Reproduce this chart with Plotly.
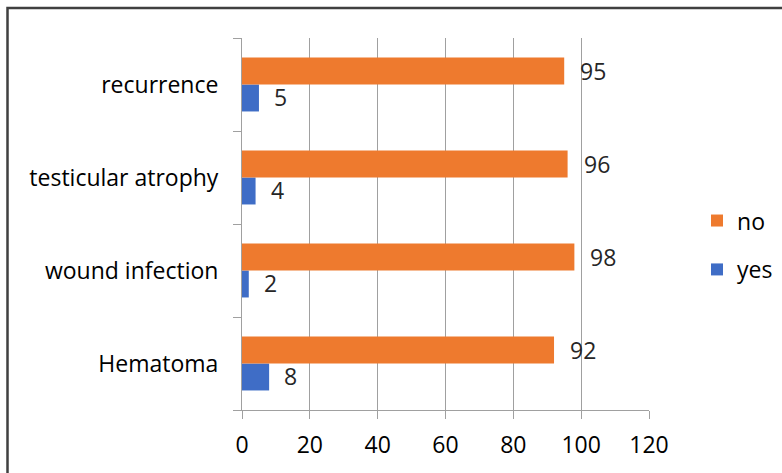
import plotly.graph_objects as go

categories = ["Hematoma", "wound infection", "testicular atrophy", "recurrence"]
yes_vals = [8, 2, 4, 5]
no_vals = [92, 98, 96, 95]
x_ticks = [0, 20, 40, 60, 80, 100, 120]

FONT = "Open Sans"
ORANGE = "#EE7A2E"
BLUE = "#3F6DC6"
FS = 23

fig = go.Figure()
fig.add_trace(go.Bar(y=categories, x=yes_vals, orientation="h", name="yes",
                     marker=dict(color=BLUE, line=dict(width=0)),
                     legendgroup="yes", legendrank=2))
fig.add_trace(go.Bar(y=categories, x=no_vals, orientation="h", name="no",
                     marker=dict(color=ORANGE, line=dict(width=0)),
                     legendgroup="no", legendrank=1))

# value labels
for c, v in zip(categories, no_vals):
    fig.add_annotation(x=v, y=c, text=str(v), showarrow=False, xanchor="left",
                       xshift=14, yshift=14, font=dict(family=FONT, size=FS, color="#262626"))
for c, v in zip(categories, yes_vals):
    fig.add_annotation(x=v, y=c, text=str(v), showarrow=False, xanchor="left",
                       xshift=13, yshift=-12, font=dict(family=FONT, size=FS, color="#262626"))

# outer frame
fig.add_shape(type="rect", xref="paper", yref="paper",
              x0=(7.5 - 242) / 407, x1=1.5, y0=-0.5, y1=1 + 30 / 372,
              line=dict(color="#404040", width=2.5), layer="above")

fig.update_layout(
    width=782, height=473,
    margin=dict(l=242, r=133, t=38, b=63, autoexpand=False),
    paper_bgcolor="white", plot_bgcolor="white",
    barmode="group", bargap=0.42, bargroupgap=0,
    font=dict(family=FONT, size=FS, color="black"),
    showlegend=True,
    legend=dict(x=1.118, y=0.567, xanchor="left", yanchor="top",
                traceorder="grouped", tracegroupgap=16,
                font=dict(family=FONT, size=FS, color="black"),
                bgcolor="rgba(0,0,0,0)"),
    xaxis=dict(range=[0, 120], tickvals=x_ticks, showgrid=True, gridcolor="#A0A0A0",
               gridwidth=1, showline=True, linecolor="#A0A0A0", linewidth=1,
               ticks="outside", ticklen=8, tickcolor="#A0A0A0", zeroline=False,
               ticklabelstandoff=6,
               tickfont=dict(family=FONT, size=FS, color="black"), fixedrange=True),
    yaxis=dict(type="category", categoryorder="array", categoryarray=categories,
               showline=True, linecolor="#A0A0A0", linewidth=1, showgrid=False,
               ticks="outside", ticklen=8, tickcolor="#A0A0A0", tickson="boundaries",
               ticklabelstandoff=18,
               tickfont=dict(family=FONT, size=FS, color="black"), fixedrange=True),
)

fig.write_html("out.html")
